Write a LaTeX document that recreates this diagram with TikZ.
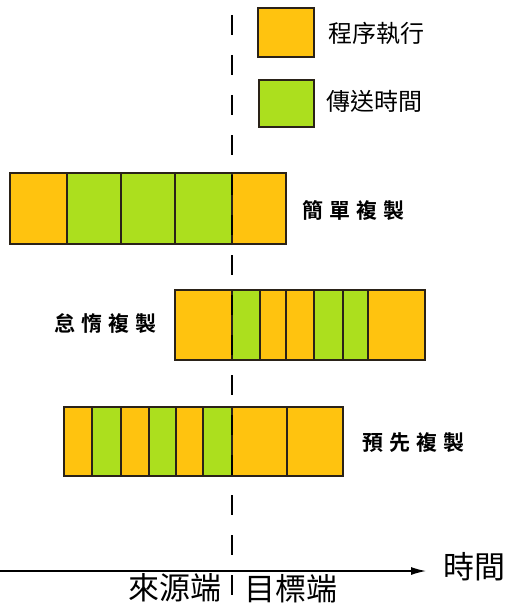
\documentclass[tikz,border=0pt]{standalone}
\usepackage{fontspec}
\newfontfamily\cjk{Noto Sans CJK TC}
\newfontfamily\cjkb{Noto Sans CJK TC Bold}
\usetikzlibrary{arrows.meta}
\definecolor{orng}{HTML}{FFC30F}
\definecolor{grn}{HTML}{ACDF1E}
\definecolor{edge}{HTML}{2A2218}
\newcommand{\cellbox}[6]{%
  \node[cellstyle, fill=#6, minimum width={(#3-#2)*1pt}, minimum height={(#5-#4)*1pt}]
    (#1) at ({(#2+#3)/2},{(#4+#5)/2}) {};}
\newcommand{\lgap}{\hspace{6pt}}
\begin{document}
\begin{tikzpicture}[x=1pt,y=-1pt,
  cellstyle/.style={draw=edge, line width=1.4pt, inner sep=0pt, outer sep=0pt, rectangle},
  lbl/.style={font=\cjkb\fontsize{21}{21}\selectfont, inner sep=0pt},
  leg/.style={font=\cjk\fontsize{24}{24}\selectfont, inner sep=0pt},
  big/.style={font=\cjk\fontsize{31}{31}\selectfont, inner sep=0pt}]
\useasboundingbox[fill=white] (0,0) rectangle (511,607);
% legend
\cellbox{lo}{258}{314}{8}{57}{orng}
\cellbox{lg}{259}{314}{80}{127}{grn}
\node[leg, anchor=west] (lot) at (328,33) {程序執行};
\node[leg, anchor=west] (lgt) at (326,101) {傳送時間};
% row 1: simple copy
\cellbox{a1}{10}{67}{173}{244}{orng}
\cellbox{a2}{67}{121}{173}{244}{grn}
\cellbox{a3}{121}{175}{173}{244}{grn}
\cellbox{a4}{175}{232}{173}{244}{grn}
\cellbox{a5}{232}{286}{173}{244}{orng}
\node[lbl, anchor=west] (la) at (302,210) {簡\lgap 單\lgap 複\lgap 製};
% row 2: lazy copy
\cellbox{b1}{175}{232}{290}{360}{orng}
\cellbox{b2}{232}{260}{290}{360}{grn}
\cellbox{b3}{260}{286}{290}{360}{orng}
\cellbox{b4}{286}{314}{290}{360}{orng}
\cellbox{b5}{314}{343}{290}{360}{grn}
\cellbox{b6}{343}{368}{290}{360}{grn}
\cellbox{b7}{368}{425}{290}{360}{orng}
\node[lbl, anchor=west] (lb) at (54,324) {怠\lgap 惰\lgap 複\lgap 製};
% row 3: pre-copy
\cellbox{c1}{64}{92}{407}{476}{orng}
\cellbox{c2}{92}{121}{407}{476}{grn}
\cellbox{c3}{121}{149}{407}{476}{orng}
\cellbox{c4}{149}{176}{407}{476}{grn}
\cellbox{c5}{176}{203}{407}{476}{orng}
\cellbox{c6}{203}{232}{407}{476}{grn}
\cellbox{c7}{232}{287}{407}{476}{orng}
\cellbox{c8}{287}{343}{407}{476}{orng}
\node[lbl, anchor=west] (lc) at (362,443) {預\lgap 先\lgap 複\lgap 製};
% divider
\coordinate (dtop) at (232,15);
\coordinate (dbot) at (232,596);
\draw[line width=1.8pt, dash pattern=on 20pt off 20pt] (dtop) -- (dbot);
% time axis
\coordinate (ax0) at (0,571);
\coordinate (ax1) at (426,571);
\draw[line width=1.3pt, -{Latex[length=15pt,width=8pt]}] (ax0) -- (ax1);
\node[big, anchor=west] (tm) at (443,567) {時間};
\node[big, anchor=east] (src) at (222,588) {來源端};
\node[big, anchor=west] (dst) at (244,589) {目標端};
\end{tikzpicture}
\end{document}
